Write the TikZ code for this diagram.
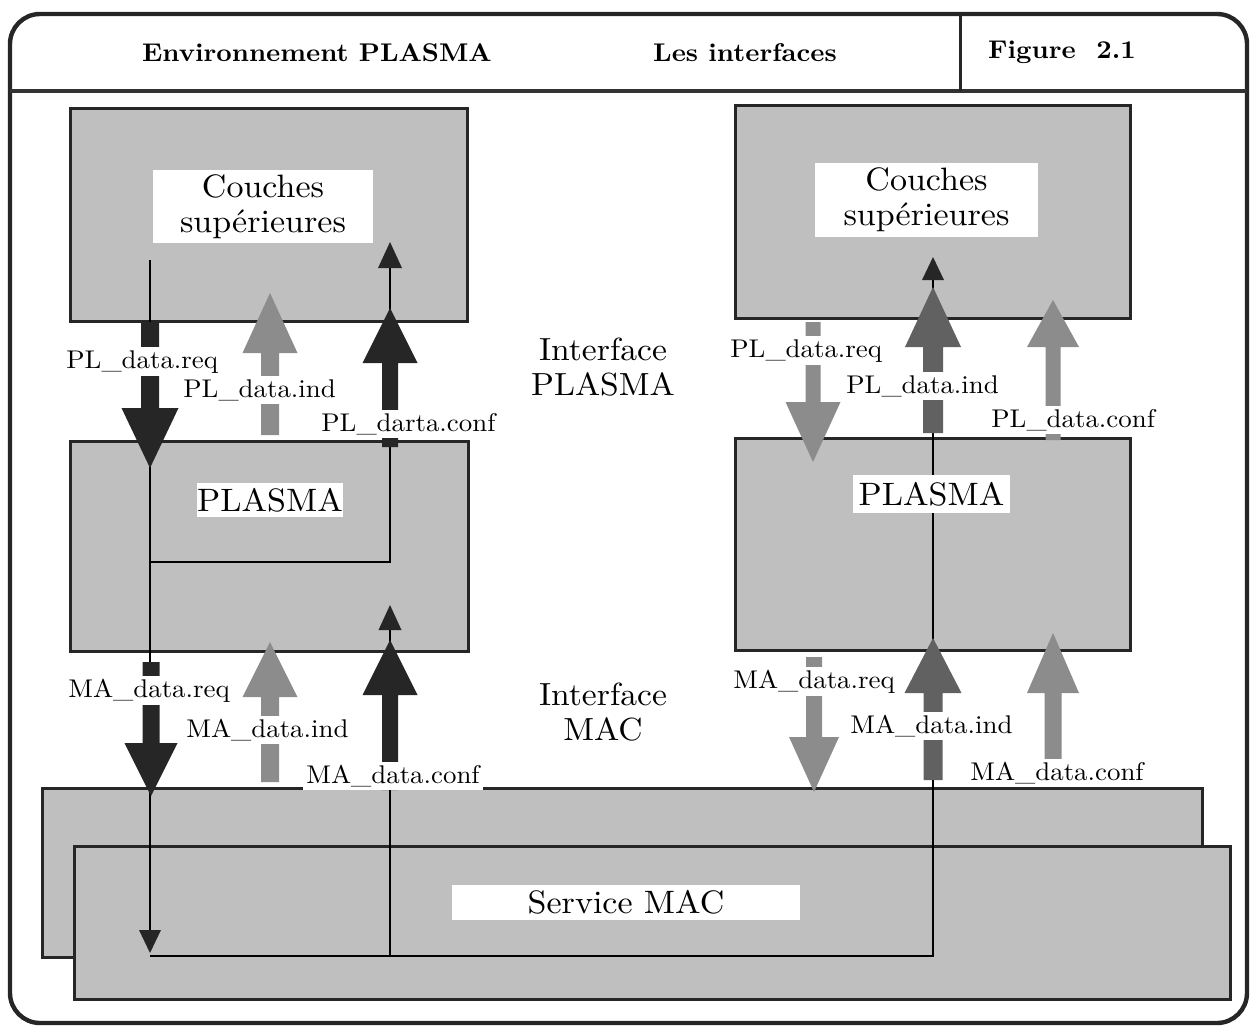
\documentclass[tikz,border=0pt]{standalone}
\usepackage{fontspec}
\setmainfont{lmroman10-regular.otf}[BoldFont=lmroman10-bold.otf, FakeStretch=1.05]
\definecolor{darkA}{gray}{0.15}
\definecolor{midA}{gray}{0.38}
\definecolor{lightA}{gray}{0.55}
\definecolor{boxgray}{gray}{0.75}
\newcommand\myarrow[7]{%
  \fill[#7] (#1-#5,#2) -- (#1-#5,#3) -- (#1-#6,#3) -- (#1,#4) -- (#1+#6,#3) -- (#1+#5,#3) -- (#1+#5,#2) -- cycle;}
\newcommand\smallhead[4]{% x, base, tip, half width
  \fill[darkA] (#1-#4,#2) -- (#1,#3) -- (#1+#4,#2) -- cycle;}
\begin{document}
\begin{tikzpicture}[x=0.5pt,y=-0.5pt,
  box/.style={draw=black!85, line width=1.5pt, fill=boxgray, inner sep=0pt},
  title/.style={fill=white, inner sep=0pt, align=center, font=\fontsize{16.2}{17.5}\selectfont},
  itext/.style={inner sep=0pt, align=center, font=\fontsize{16}{17.5}\selectfont},
  lbl/.style={fill=white, inner sep=1.5pt, anchor=base west, font=\fontsize{12.8}{15}\selectfont},
  hdr/.style={inner sep=0pt, font=\bfseries\fontsize{12.8}{15}\selectfont},
  wire/.style={draw=black, line width=1pt}]
\useasboundingbox (0,0) rectangle (1253,1028);
% frame and header
\draw[line width=2.2pt, black!85, rounded corners=15pt] (10,14) rectangle (1247,1023);
\draw[line width=2.2pt, black!80] (10,91) -- (1247,91);
\draw[line width=1.5pt, black!85] (960,14) -- (960,91);
\node[hdr] (h1) at (317,53) {Environnement PLASMA};
\node[hdr] (h2) at (745,53) {Les interfaces};
\node[hdr] (h3) at (1062,52) {Figure~~2.1};
% boxes
\node[box, minimum width=580pt, minimum height=84.5pt] (macB) at (622,872.5) {};
\node[box, minimum width=578pt, minimum height=76.5pt] (macF) at (652,922.5) {};
\node[box, minimum width=198.5pt, minimum height=106.5pt] (csL) at (268.5,214.5) {};
\node[box, minimum width=199pt, minimum height=105pt] (plL) at (269,546) {};
\node[box, minimum width=197.5pt, minimum height=106.5pt] (csR) at (932.5,211.5) {};
\node[box, minimum width=197.5pt, minimum height=106pt] (plR) at (932.5,544) {};
% thin connectors
\coordinate (reqStart) at (150,260);
\coordinate (reqEnd) at (150,935);
\coordinate (loopL) at (150,956);
\coordinate (loopR) at (933,956);
\coordinate (indTop) at (933,270);
\coordinate (brL) at (150,562);
\coordinate (brR) at (390,562);
\coordinate (confTop) at (390,262);
\coordinate (confBot) at (390,956);
\coordinate (confMid) at (390,620);
\draw[wire] (reqStart) -- (reqEnd);
\smallhead{150}{930}{953}{11}
\draw[wire] (loopL) -- (loopR) -- (indTop);
\smallhead{933}{280}{257}{11}
\draw[wire] (brL) -- (brR) -- (confTop);
\smallhead{390}{268}{242}{12}
\draw[wire] (confBot) -- (confMid);
\smallhead{390}{630}{605}{11.5}
% block arrows, left column
\myarrow{150}{322}{408}{468}{9}{28.5}{darkA}
\myarrow{270}{435}{353}{293}{9}{27.5}{lightA}
\myarrow{390}{447}{363}{308}{8}{27.5}{darkA}
\myarrow{151}{662}{743}{796}{8.5}{26.5}{darkA}
\myarrow{270}{782}{697}{642}{9}{27.5}{lightA}
\myarrow{390}{790}{695}{640}{8}{27.5}{darkA}
% block arrows, right column
\myarrow{813}{322}{402}{462}{7.5}{27.5}{lightA}
\myarrow{933}{433}{347}{287}{10}{28}{midA}
\myarrow{1053}{440}{347}{300}{7.5}{26}{lightA}
\myarrow{814}{657}{737}{792}{8}{25}{lightA}
\myarrow{933}{780}{693}{638}{9.5}{28.5}{midA}
\myarrow{1053}{785}{693}{633}{8.5}{26}{lightA}
% titles
\node[title, minimum width=110pt, minimum height=36.5pt] (tcsL) at (263,206.5) {Couches\\supérieures};
\node[title, minimum width=111.5pt, minimum height=37pt] (tcsR) at (926.5,200) {Couches\\supérieures};
\node[title, minimum width=73pt, minimum height=17pt] (tplL) at (270,500) {PLASMA};
\node[title, minimum width=78.5pt, minimum height=19pt] (tplR) at (931.5,494) {PLASMA};
\node[title, minimum width=174pt, minimum height=17.5pt] (tmac) at (626,902.5) {Service MAC};
\node[itext] (ifP) at (603,367) {Interface\\PLASMA};
\node[itext] (ifM) at (603,712) {Interface\\MAC};
% labels
\node[lbl] (l1) at (63,368) {PL\_data.req};
\node[lbl] (l2) at (180,397) {PL\_data.ind};
\node[lbl] (l3) at (318,431) {PL\_darta.conf};
\node[lbl] (l4) at (65,697) {MA\_data.req};
\node[lbl] (l5) at (183,737) {MA\_data.ind};
\node[lbl] (l6) at (303,783) {MA\_data.conf};
\node[lbl] (r1) at (727,357) {PL\_data.req};
\node[lbl] (r2) at (843,393) {PL\_data.ind};
\node[lbl] (r3) at (988,427) {PL\_data.conf};
\node[lbl] (r4) at (730,688) {MA\_data.req};
\node[lbl] (r5) at (847,733) {MA\_data.ind};
\node[lbl] (r6) at (967,780) {MA\_data.conf};
\end{tikzpicture}
\end{document}
